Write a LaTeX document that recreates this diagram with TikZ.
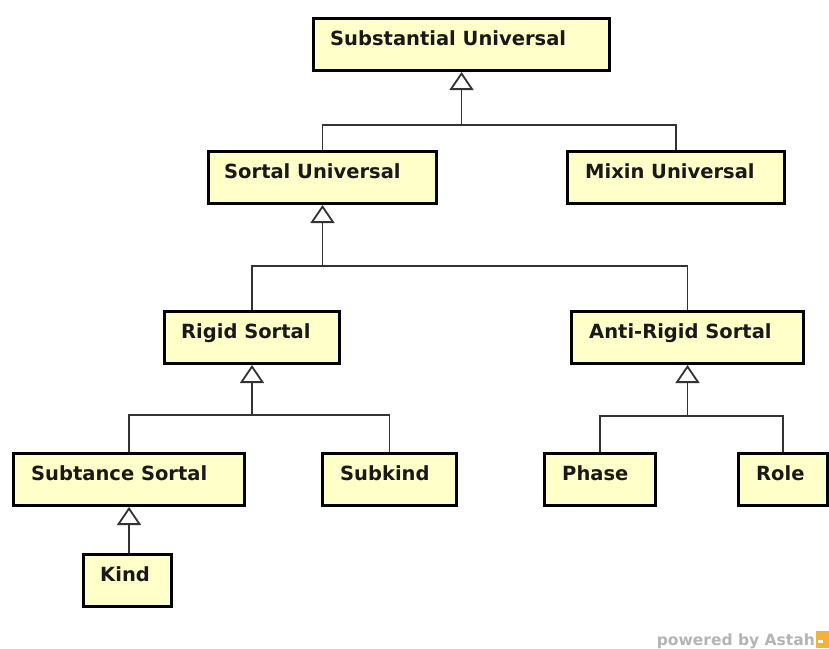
\documentclass[tikz,border=0pt]{standalone}
\usepackage{fontspec}
\setmainfont{DejaVu Sans}
\usetikzlibrary{arrows.meta,calc}
\definecolor{classfill}{HTML}{FFFFCA}
\definecolor{wmgray}{HTML}{B4B4B4}
\definecolor{logoorange}{HTML}{F4B23C}
\begin{document}
\begin{tikzpicture}[x=1pt,y=-1pt,
  cls/.style={draw=black, line width=3pt, fill=classfill, anchor=north west,
    minimum height=52pt, inner sep=0pt},
  lbl/.style={anchor=base west, inner sep=0pt, text=black!90,
    font=\fontsize{19.5}{20}\selectfont\bfseries},
  conn/.style={draw=black!80, line width=1.8pt},
  gen/.style={conn, -{Triangle[open, width=24pt, length=18pt, line width=1.8pt, fill=white]}}]
\useasboundingbox (0,0) rectangle (829,648);

% class boxes
\node[cls, minimum width=296pt] (su)   at (312,17)  {};
\node[cls, minimum width=228pt] (sort) at (207,150) {};
\node[cls, minimum width=217pt] (mix)  at (566,150) {};
\node[cls, minimum width=175pt] (rig)  at (163,310) {};
\node[cls, minimum width=232pt] (anti) at (570,310) {};
\node[cls, minimum width=231pt] (sub)  at (12,452)  {};
\node[cls, minimum width=134pt] (skd)  at (321,452) {};
\node[cls, minimum width=111pt] (pha)  at (543,452) {};
\node[cls, minimum width=89pt]  (rol)  at (737,452) {};
\node[cls, minimum width=88pt]  (kind) at (82,553)  {};

% class names
\node[lbl] (tsu)   at ($(su.north west)+(18,28)$)   {Substantial Universal};
\node[lbl] (tsort) at ($(sort.north west)+(17,28)$) {Sortal Universal};
\node[lbl] (tmix)  at ($(mix.north west)+(19,28)$)  {Mixin Universal};
\node[lbl] (trig)  at ($(rig.north west)+(18,28)$)  {Rigid Sortal};
\node[lbl] (tanti) at ($(anti.north west)+(19,28)$) {Anti-Rigid Sortal};
\node[lbl] (tsub)  at ($(sub.north west)+(19,28)$)  {Subtance Sortal};
\node[lbl] (tskd)  at ($(skd.north west)+(19,28)$)  {Subkind};
\node[lbl] (tpha)  at ($(pha.north west)+(19,28)$)  {Phase};
\node[lbl] (trol)  at ($(rol.north west)+(19,28)$)  {Role};
\node[lbl] (tkind) at ($(kind.north west)+(18,28)$) {Kind};

% generalization junctions
\coordinate (j1) at (su.south |- 0,125);
\coordinate (j2) at (sort.south |- 0,266);
\coordinate (j3) at (rig.south |- 0,415);
\coordinate (j4) at (anti.south |- 0,416);

% generalization connectors
\draw[conn] (sort.north) |- (j1) -| (mix.north);
\draw[gen] (j1) -- (su.south);
\draw[conn] (rig.north) |- (j2) -| (anti.north);
\draw[gen] (j2) -- (sort.south);
\draw[conn] (sub.north) |- (j3) -| (skd.north);
\draw[gen] (j3) -- (rig.south);
\draw[conn] (pha.north) |- (j4) -| (rol.north);
\draw[gen] (j4) -- (anti.south);
\draw[gen] (sub.south |- kind.north) -- (sub.south);

% footer mark
\node[anchor=base east, inner sep=0pt, text=wmgray,
  font=\fontsize{15.5}{16}\selectfont\bfseries] (wm) at (815,645) {powered by Astah};
\fill[logoorange] (816,631) rectangle (829,648);
\fill[white] (818,640) rectangle (823,643);
\end{tikzpicture}
\end{document}
